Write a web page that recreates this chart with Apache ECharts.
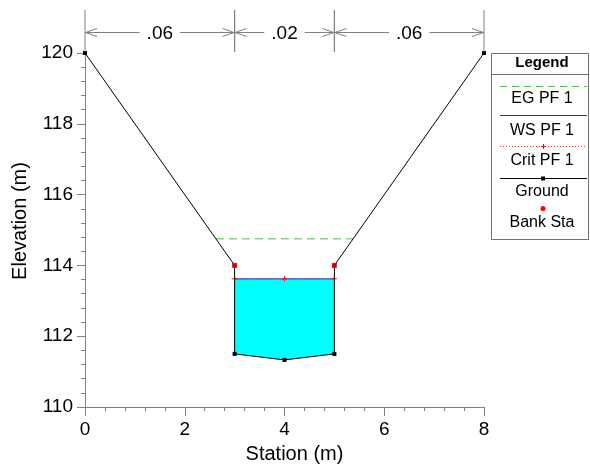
<!DOCTYPE html>
<html><head><meta charset="utf-8">
<script src="https://cdn.jsdelivr.net/npm/echarts@6/dist/echarts.min.js"></script>
<style>html,body{margin:0;padding:0;background:#fff}#c{width:590px;height:469px}</style>
</head><body><div id="c"></div>
<script>
// ---- data ----
const groundStation = [0, 3, 3, 4, 5, 5, 8];
const groundElev    = [120, 114, 111.5, 111.33, 111.5, 114, 120];
const bankStation   = [3, 5];
const bankElev      = [114, 114];
const wsStation     = [3, 5];
const wsElev        = 113.62;
const critStation   = [3, 4, 5];
const critElev      = 113.62;
const egStation     = [2.625, 5.375];
const egElev        = 114.75;
const nBreaks       = [0, 3, 5, 8];
const nValues       = ['.06', '.02', '.06'];
const xTickValues   = [0, 2, 4, 6, 8];
const yTickValues   = [110, 112, 114, 116, 118, 120];

const FONT = '"Liberation Sans", Arial, sans-serif';
const GRAY = '#808080';
const EG_COLOR = '#4cbb4c';
const WS_COLOR = '#2020ff';

const groundData = groundStation.map((s, i) => [s, groundElev[i]]);
const bankData = bankStation.map((s, i) => [s, bankElev[i]]);
const wsData = wsStation.map(s => [s, wsElev]);
const critData = critStation.map(s => [s, critElev]);
const egData = egStation.map(s => [s, egElev]);

// water polygon: WS level across banks, down along ground points below WS
const waterPoly = [[wsStation[0], wsElev], [wsStation[1], wsElev]];
for (let i = groundStation.length - 1; i >= 0; i--) {
  if (groundStation[i] >= wsStation[0] && groundStation[i] <= wsStation[1] && groundElev[i] < wsElev) {
    waterPoly.push([groundStation[i], groundElev[i]]);
  }
}

const nData = nValues.map((v, i) => [nBreaks[i], nBreaks[i + 1], v]);
const yTop = Math.max(...yTickValues);

const plusPath = 'path://M0,2L2,2L2,0L3,0L3,2L5,2L5,3L3,3L3,5L2,5L2,3L0,3Z';

const chart = echarts.init(document.getElementById('c'), null, {renderer: 'canvas'});

const legendX0 = 500, legendX1 = 587, legendCx = 542;
const legendGraphic = [
  {type: 'rect', shape: {x: 491.5, y: 53.5, width: 97, height: 186}, style: {fill: '#fff', stroke: '#707070', lineWidth: 1}, z: 100},
  {type: 'text', x: legendCx, y: 63, style: {text: 'Legend', font: 'bold 15px ' + FONT, fill: '#000', align: 'center', verticalAlign: 'middle'}, z: 101},
  {type: 'line', shape: {x1: 491.5, y1: 74.5, x2: 588.5, y2: 74.5}, style: {stroke: '#707070', lineWidth: 1}, z: 101},
  {type: 'line', shape: {x1: legendX0, y1: 86.5, x2: legendX1, y2: 86.5}, style: {stroke: EG_COLOR, lineWidth: 1, lineDash: [7, 5]}, z: 101},
  {type: 'text', x: legendCx, y: 99, style: {text: 'EG PF 1', font: '16px ' + FONT, fill: '#000', align: 'center', verticalAlign: 'middle'}, z: 101},
  {type: 'line', shape: {x1: legendX0, y1: 115.5, x2: legendX1, y2: 115.5}, style: {stroke: WS_COLOR, lineWidth: 1}, z: 101},
  {type: 'text', x: legendCx, y: 131, style: {text: 'WS PF 1', font: '16px ' + FONT, fill: '#000', align: 'center', verticalAlign: 'middle'}, z: 101},
  {type: 'line', shape: {x1: legendX0, y1: 146.5, x2: legendX1, y2: 146.5}, style: {stroke: '#ff3030', lineWidth: 1, lineDash: [1, 2]}, z: 101},
  {type: 'polygon', shape: {points: [[541,146],[543,146],[543,144],[544,144],[544,146],[546,146],[546,147],[544,147],[544,149],[543,149],[543,147],[541,147]]}, style: {fill: '#ff0000'}, z: 102},
  {type: 'text', x: legendCx, y: 161, style: {text: 'Crit PF 1', font: '16px ' + FONT, fill: '#000', align: 'center', verticalAlign: 'middle'}, z: 101},
  {type: 'line', shape: {x1: legendX0, y1: 178.5, x2: legendX1, y2: 178.5}, style: {stroke: '#000', lineWidth: 1}, z: 101},
  {type: 'rect', shape: {x: 541, y: 176.5, width: 4, height: 4}, style: {fill: '#000'}, z: 102},
  {type: 'text', x: legendCx, y: 192, style: {text: 'Ground', font: '16px ' + FONT, fill: '#000', align: 'center', verticalAlign: 'middle'}, z: 101},
  {type: 'circle', shape: {cx: 543, cy: 208.5, r: 2.5}, style: {fill: '#ff0000'}, z: 102},
  {type: 'text', x: legendCx, y: 223, style: {text: 'Bank Sta', font: '16px ' + FONT, fill: '#000', align: 'center', verticalAlign: 'middle'}, z: 101}
];

const option = {
  animation: false,
  backgroundColor: '#fff',
  grid: {left: 85, right: 106, top: 53, bottom: 60},
  xAxis: {
    type: 'value', min: xTickValues[0], max: xTickValues[xTickValues.length - 1], interval: 2,
    name: 'Station (m)', nameLocation: 'middle', nameGap: 37,
    nameTextStyle: {fontFamily: FONT, fontSize: 20, color: '#000', padding: [0, 0, 0, 20]},
    axisLine: {show: true, onZero: false, lineStyle: {color: GRAY, width: 1}},
    axisTick: {show: true, length: 9, lineStyle: {color: GRAY}},
    minorTick: {show: true, splitNumber: 5, length: 4, lineStyle: {color: GRAY}},
    splitLine: {show: false}, minorSplitLine: {show: false},
    axisLabel: {fontFamily: FONT, fontSize: 19, color: '#000', margin: 13}
  },
  yAxis: {
    type: 'value', min: yTickValues[0], max: yTickValues[yTickValues.length - 1], interval: 2,
    name: 'Elevation (m)', nameLocation: 'middle', nameGap: 50, nameRotate: 90,
    nameTextStyle: {fontFamily: FONT, fontSize: 20, color: '#000', padding: [0, 0, 0, 18]},
    axisLine: {show: true, onZero: false, lineStyle: {color: GRAY, width: 1}},
    axisTick: {show: true, length: 8, lineStyle: {color: GRAY}},
    minorTick: {show: true, splitNumber: 5, length: 4, lineStyle: {color: GRAY}},
    splitLine: {show: false}, minorSplitLine: {show: false},
    axisLabel: {fontFamily: FONT, fontSize: 19, color: '#000', margin: 12}
  },
  graphic: legendGraphic,
  series: [
    {
      name: 'Water', type: 'custom', silent: true, z: 1,
      data: [[0]],
      renderItem: function (params, api) {
        const pts = waterPoly.map(p => api.coord(p));
        return {type: 'polygon', shape: {points: pts}, style: {fill: '#00ffff', stroke: null}};
      }
    },
    {
      name: 'EG PF 1', type: 'line', data: egData, symbol: 'none', z: 3,
      lineStyle: {color: EG_COLOR, width: 1, type: [8, 5]}
    },
    {
      name: 'WS PF 1', type: 'line', data: wsData, symbol: 'none', z: 4,
      lineStyle: {color: WS_COLOR, width: 1}
    },
    {
      name: 'Crit PF 1', type: 'line', data: critData, z: 5,
      symbol: plusPath, symbolSize: 5,
      itemStyle: {color: '#ff0000'},
      lineStyle: {color: '#ff3030', width: 1, type: [1, 2]}
    },
    {
      name: 'Ground', type: 'line', data: groundData, z: 6,
      symbol: 'rect', symbolSize: 4,
      itemStyle: {color: '#000'},
      lineStyle: {color: '#000', width: 1}
    },
    {
      name: 'Bank Sta', type: 'scatter', data: bankData, z: 7,
      symbol: 'rect', symbolSize: 5,
      itemStyle: {color: '#ff0000'}
    },
    {
      name: 'n values', type: 'custom', silent: true, z: 8, clip: false,
      data: nData,
      renderItem: function (params, api) {
        const a = api.coord([api.value(0), yTop]);
        const b = api.coord([api.value(1), yTop]);
        const label = nData[params.dataIndex][2];
        const yl = 32.5, yt = 10;
        const ch = 12, cw = 4;
        const st = {stroke: GRAY, lineWidth: 1, fill: null};
        return {
          type: 'group',
          children: [
            {type: 'line', shape: {x1: a[0], y1: yt, x2: a[0], y2: a[1] - 1}, style: st},
            {type: 'line', shape: {x1: b[0], y1: yt, x2: b[0], y2: b[1] - 1}, style: st},
            {type: 'line', shape: {x1: a[0], y1: yl, x2: b[0], y2: yl}, style: st},
            {type: 'polyline', shape: {points: [[a[0] + ch, yl - cw], [a[0] + 0.5, yl], [a[0] + ch, yl + cw]]}, style: st},
            {type: 'polyline', shape: {points: [[b[0] - ch, yl - cw], [b[0] - 0.5, yl], [b[0] - ch, yl + cw]]}, style: st},
            {type: 'text', x: (a[0] + b[0]) / 2, y: yl + 1.5,
              style: {text: label, font: '19px ' + FONT, fill: '#000', align: 'center', verticalAlign: 'middle',
                backgroundColor: '#fff', padding: [0, 7]}}
          ]
        };
      }
    }
  ]
};
chart.setOption(option);
</script>
</body></html>
